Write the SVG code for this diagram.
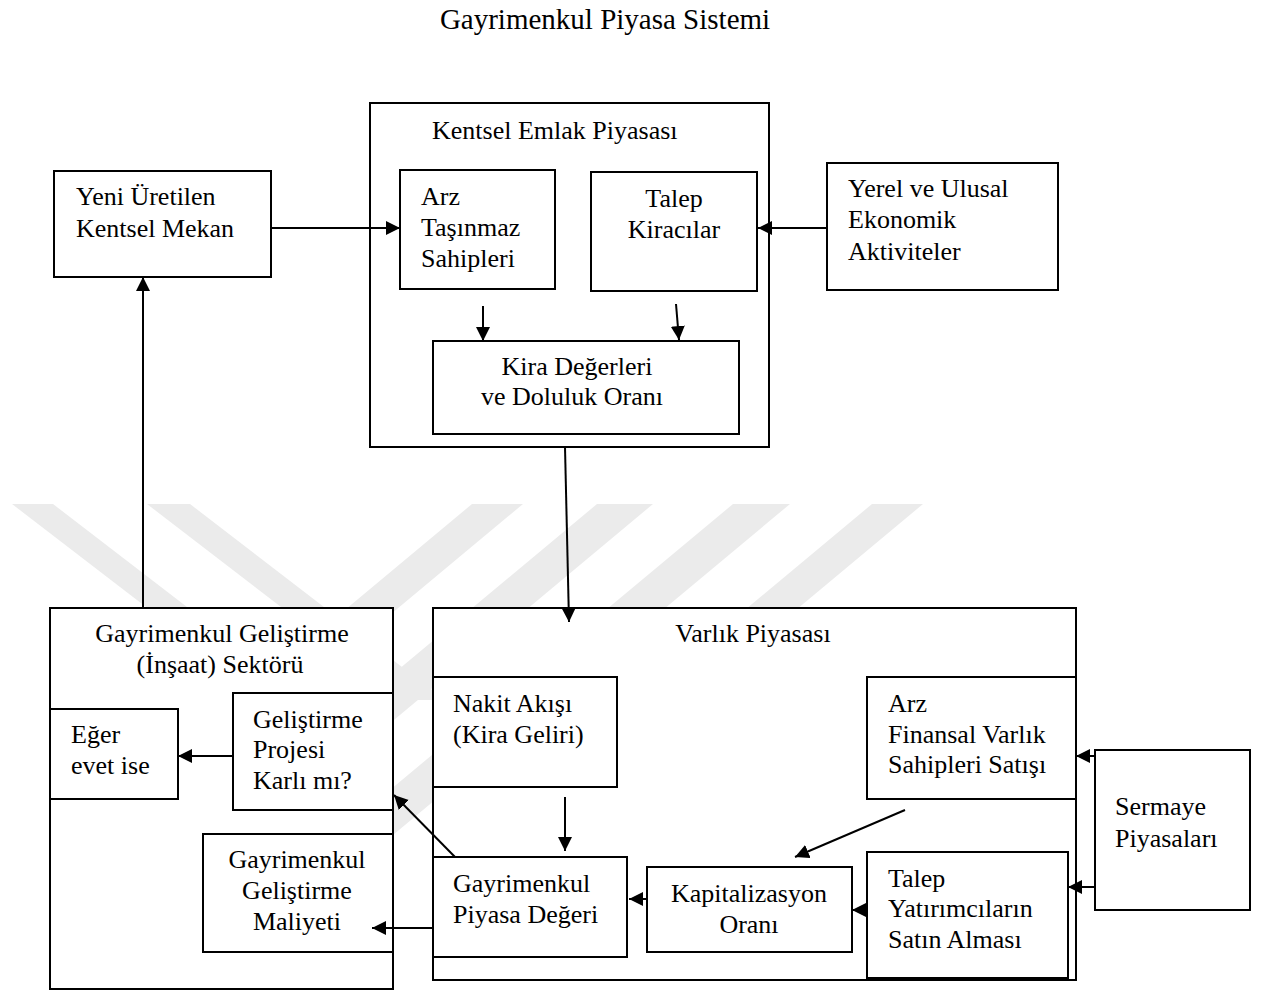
<svg xmlns="http://www.w3.org/2000/svg" width="1267" height="992" viewBox="0 0 1267 992">
<style>
text{font-family:"Liberation Serif","Times New Roman",serif;font-size:26px;fill:#000}
.t{font-size:29px}
.m{text-anchor:middle}
rect{fill:#fff;stroke:#000;stroke-width:2}
.c path{fill:none;stroke:#000;stroke-width:2;marker-end:url(#ah)}
.wm polygon{fill:#ebebeb}
</style>
<defs>
<marker id="ah" markerUnits="userSpaceOnUse" markerWidth="16" markerHeight="16" refX="14" refY="7" orient="auto"><path d="M0,0 L14,7 L0,14 z" fill="#000"/></marker>
</defs>
<rect x="0" y="0" width="1267" height="992" style="stroke:none"/>
<g class="wm">
<polygon points="12,504 53,504 308,700 267,700"/>
<polygon points="147,504 190,504 445,700 402,700"/>
<polygon points="472,504 523,504 108,850 57,850"/>
<polygon points="597,504 653,504 238,850 182,850"/>
<polygon points="733,504 790,504 375,850 318,850"/>
<polygon points="872,504 923,504 508,850 457,850"/>
</g>
<text class="t" x="605" y="29" text-anchor="middle">Gayrimenkul Piyasa Sistemi</text>
<g id="kentsel">
<rect x="370" y="103" width="399" height="344"/>
<text x="432" y="139">Kentsel Emlak Piyasası</text>
</g>
<g id="arz">
<rect x="400" y="170" width="155" height="119"/>
<text x="421" y="205">Arz</text><text x="421" y="236">Taşınmaz</text><text x="421" y="267">Sahipleri</text>
</g>
<g id="talep">
<rect x="591" y="172" width="166" height="119"/>
<text class="m" x="674" y="207">Talep</text><text class="m" x="674" y="238">Kiracılar</text>
</g>
<g id="kira">
<rect x="433" y="341" width="306" height="93"/>
<text class="m" x="577" y="375">Kira Değerleri</text><text class="m" x="572" y="405">ve Doluluk Oranı</text>
</g>
<g id="yeni">
<rect x="54" y="171" width="217" height="106"/>
<text x="76" y="205">Yeni Üretilen</text><text x="76" y="237">Kentsel Mekan</text>
</g>
<g id="yerel">
<rect x="827" y="163" width="231" height="127"/>
<text x="848" y="197">Yerel ve Ulusal</text><text x="848" y="228">Ekonomik</text><text x="848" y="260">Aktiviteler</text>
</g>
<g id="gelistirme">
<rect x="50" y="608" width="343" height="381"/>
<text class="m" x="222" y="642">Gayrimenkul Geliştirme</text><text class="m" x="220" y="673">(İnşaat) Sektörü</text>
</g>
<g id="eger">
<rect x="50" y="709" width="128" height="90"/>
<text x="71" y="743">Eğer</text><text x="71" y="774">evet ise</text>
</g>
<g id="projesi">
<rect x="233" y="693" width="160" height="117"/>
<text x="253" y="728">Geliştirme</text><text x="253" y="758">Projesi</text><text x="253" y="789">Karlı mı?</text>
</g>
<g id="maliyet">
<rect x="203" y="834" width="190" height="118"/>
<text class="m" x="297" y="868">Gayrimenkul</text><text class="m" x="297" y="899">Geliştirme</text><text class="m" x="297" y="930">Maliyeti</text>
</g>
<g id="varlik">
<rect x="433" y="608" width="643" height="372"/>
<text class="m" x="753" y="642">Varlık Piyasası</text>
</g>
<g id="nakit">
<rect x="433" y="677" width="184" height="110"/>
<text x="453" y="712">Nakit Akışı</text><text x="453" y="743">(Kira Geliri)</text>
</g>
<g id="deger">
<rect x="433" y="857" width="194" height="100"/>
<text x="453" y="892">Gayrimenkul</text><text x="453" y="923">Piyasa Değeri</text>
</g>
<g id="kap">
<rect x="647" y="867" width="205" height="85"/>
<text class="m" x="749" y="902">Kapitalizasyon</text><text class="m" x="749" y="933">Oranı</text>
</g>
<g id="arzfin">
<rect x="867" y="677" width="209" height="122"/>
<text x="888" y="712">Arz</text><text x="888" y="743">Finansal Varlık</text><text x="888" y="773">Sahipleri Satışı</text>
</g>
<g id="talepyat">
<rect x="867" y="852" width="201" height="126"/>
<text x="888" y="887">Talep</text><text x="888" y="917">Yatırımcıların</text><text x="888" y="948">Satın Alması</text>
</g>
<g id="sermaye">
<rect x="1095" y="750" width="155" height="160"/>
<text x="1115" y="815">Sermaye</text><text x="1115" y="847">Piyasaları</text>
</g>
<g class="c">
<path d="M271,228 H400"/>
<path d="M827,228 H758"/>
<path d="M483,306 V341"/>
<path d="M676,304 L679,340"/>
<path d="M565,447 L569,622"/>
<path d="M143,608 V277"/>
<path d="M233,756 H178"/>
<path d="M455,857 L394,795"/>
<path d="M433,928 H372"/>
<path d="M565,797 V851"/>
<path d="M647,899 H629"/>
<path d="M866,910 H852"/>
<path d="M905,810 L795,857"/>
<path d="M1095,756 H1076"/>
<path d="M1095,887 H1068"/>
</g>
</svg>
